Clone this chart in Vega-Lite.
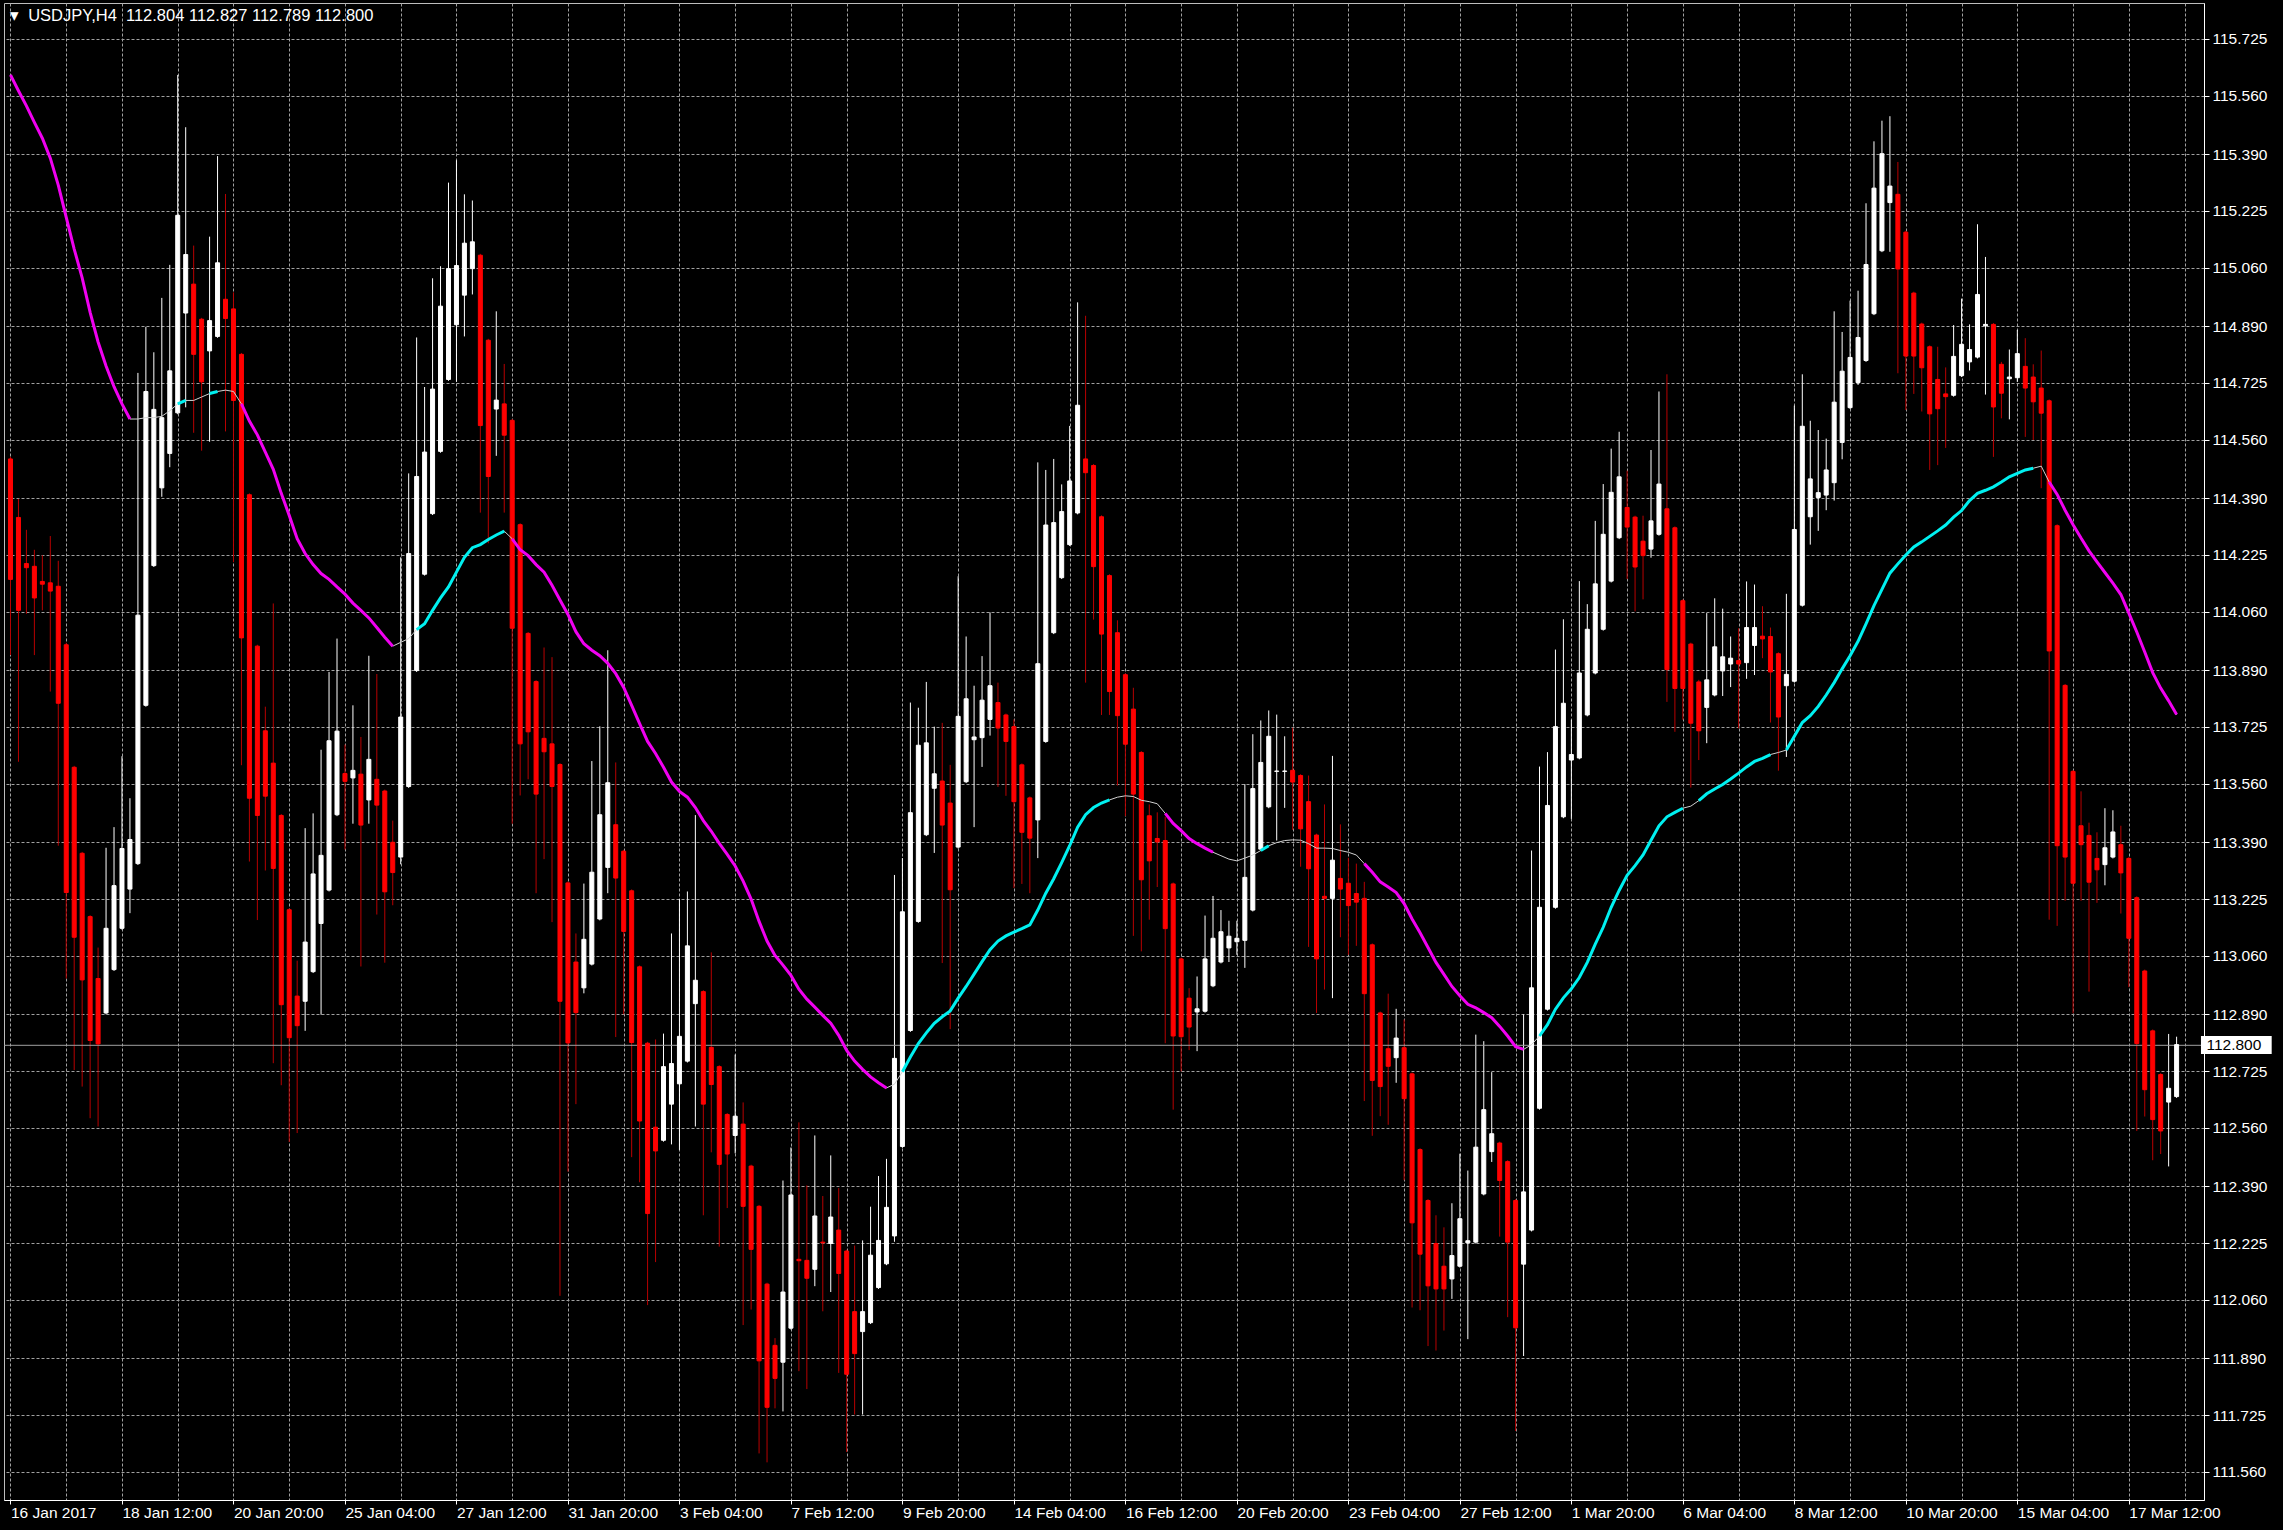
{
"$schema": "https://vega.github.io/schema/vega-lite/v6.json",
"width": 2200,
"height": 1497,
"autosize": {"type": "none"},
"padding": {"left": 4, "top": 3, "right": 79, "bottom": 30},
"background": "#000000",
"view": {"stroke": "#bdbdbd", "strokeWidth": 1, "fill": "#000000"},
"config": {"font": "Liberation Sans"},
"title": {"text": "\u25be\u00a0 USDJPY,H4\u00a0 112.804 112.827 112.789 112.800", "anchor": "start", "frame": "group", "color": "#ffffff", "font": "Liberation Sans", "fontSize": 16.5, "fontWeight": "normal", "baseline": "alphabetic", "offset": 0, "dx": 6, "dy": 34},
"datasets": {
"candles": [
{"i":0,"o":114.504,"h":114.51,"l":113.934,"c":114.154},
{"i":1,"o":114.334,"h":114.388,"l":113.624,"c":114.064},
{"i":2,"o":114.2,"h":114.298,"l":114.054,"c":114.188},
{"i":3,"o":114.192,"h":114.24,"l":113.934,"c":114.1},
{"i":4,"o":114.148,"h":114.224,"l":114.064,"c":114.14},
{"i":5,"o":114.144,"h":114.28,"l":113.828,"c":114.12},
{"i":6,"o":114.134,"h":114.208,"l":113.38,"c":113.794},
{"i":7,"o":113.964,"h":113.97,"l":112.994,"c":113.244},
{"i":8,"o":113.608,"h":113.612,"l":112.728,"c":113.114},
{"i":9,"o":113.358,"h":113.362,"l":112.68,"c":112.99},
{"i":10,"o":113.174,"h":113.178,"l":112.588,"c":112.814},
{"i":11,"o":112.994,"h":113.084,"l":112.564,"c":112.804},
{"i":12,"o":112.894,"h":113.374,"l":112.89,"c":113.14},
{"i":13,"o":113.02,"h":113.434,"l":113.016,"c":113.264},
{"i":14,"o":113.14,"h":113.64,"l":113.136,"c":113.372},
{"i":15,"o":113.254,"h":113.518,"l":113.184,"c":113.398},
{"i":16,"o":113.328,"h":114.754,"l":113.324,"c":114.05},
{"i":17,"o":113.788,"h":114.888,"l":113.784,"c":114.7},
{"i":18,"o":114.194,"h":114.814,"l":114.19,"c":114.648},
{"i":19,"o":114.42,"h":114.972,"l":114.394,"c":114.624},
{"i":20,"o":114.52,"h":115.068,"l":114.48,"c":114.76},
{"i":21,"o":114.638,"h":115.62,"l":114.634,"c":115.212},
{"i":22,"o":114.928,"h":115.468,"l":114.654,"c":115.098},
{"i":23,"o":115.012,"h":115.124,"l":114.58,"c":114.808},
{"i":24,"o":114.91,"h":114.914,"l":114.528,"c":114.728},
{"i":25,"o":114.818,"h":115.15,"l":114.554,"c":114.906},
{"i":26,"o":114.86,"h":115.384,"l":114.856,"c":115.074},
{"i":27,"o":114.968,"h":115.274,"l":114.584,"c":114.912},
{"i":28,"o":114.94,"h":114.988,"l":114.204,"c":114.674},
{"i":29,"o":114.808,"h":114.812,"l":113.614,"c":113.984},
{"i":30,"o":114.4,"h":114.404,"l":113.334,"c":113.518},
{"i":31,"o":113.96,"h":113.964,"l":113.164,"c":113.468},
{"i":32,"o":113.714,"h":113.784,"l":113.308,"c":113.524},
{"i":33,"o":113.62,"h":114.084,"l":112.748,"c":113.314},
{"i":34,"o":113.468,"h":113.472,"l":112.684,"c":112.918},
{"i":35,"o":113.194,"h":113.198,"l":112.519,"c":112.822},
{"i":36,"o":112.943,"h":113.046,"l":112.545,"c":112.857},
{"i":37,"o":112.928,"h":113.431,"l":112.842,"c":113.1},
{"i":38,"o":113.014,"h":113.474,"l":113.01,"c":113.298},
{"i":39,"o":113.154,"h":113.659,"l":112.889,"c":113.352},
{"i":40,"o":113.251,"h":113.885,"l":113.247,"c":113.685},
{"i":41,"o":113.47,"h":113.982,"l":113.466,"c":113.713},
{"i":42,"o":113.59,"h":113.674,"l":113.369,"c":113.567},
{"i":43,"o":113.577,"h":113.788,"l":113.444,"c":113.599},
{"i":44,"o":113.588,"h":113.696,"l":113.029,"c":113.44},
{"i":45,"o":113.513,"h":113.932,"l":113.444,"c":113.631},
{"i":46,"o":113.573,"h":113.879,"l":113.18,"c":113.498},
{"i":47,"o":113.539,"h":113.543,"l":113.04,"c":113.246},
{"i":48,"o":113.39,"h":113.453,"l":113.207,"c":113.302},
{"i":49,"o":113.347,"h":114.218,"l":113.326,"c":113.754},
{"i":50,"o":113.552,"h":114.462,"l":113.548,"c":114.229},
{"i":51,"o":113.889,"h":114.857,"l":113.885,"c":114.453},
{"i":52,"o":114.169,"h":114.713,"l":114.165,"c":114.524},
{"i":53,"o":114.345,"h":115.029,"l":114.341,"c":114.707},
{"i":54,"o":114.526,"h":115.064,"l":114.522,"c":114.948},
{"i":55,"o":114.735,"h":115.307,"l":114.731,"c":115.057},
{"i":56,"o":114.894,"h":115.372,"l":114.728,"c":115.066},
{"i":57,"o":114.98,"h":115.273,"l":114.86,"c":115.131},
{"i":58,"o":115.057,"h":115.255,"l":114.982,"c":115.135},
{"i":59,"o":115.096,"h":115.1,"l":114.348,"c":114.601},
{"i":60,"o":114.849,"h":114.853,"l":114.259,"c":114.453},
{"i":61,"o":114.649,"h":114.933,"l":114.513,"c":114.675},
{"i":62,"o":114.664,"h":114.78,"l":114.348,"c":114.573},
{"i":63,"o":114.616,"h":114.62,"l":113.444,"c":114.012},
{"i":64,"o":114.313,"h":114.317,"l":113.526,"c":113.676},
{"i":65,"o":113.997,"h":114.001,"l":113.573,"c":113.711},
{"i":66,"o":113.857,"h":113.861,"l":113.242,"c":113.53},
{"i":67,"o":113.692,"h":113.956,"l":113.341,"c":113.653},
{"i":68,"o":113.676,"h":113.928,"l":113.158,"c":113.552},
{"i":69,"o":113.616,"h":113.62,"l":112.072,"c":112.928},
{"i":70,"o":113.272,"h":113.276,"l":112.433,"c":112.807},
{"i":71,"o":113.042,"h":113.125,"l":112.629,"c":112.895},
{"i":72,"o":112.967,"h":113.27,"l":112.951,"c":113.108},
{"i":73,"o":113.036,"h":113.626,"l":113.032,"c":113.303},
{"i":74,"o":113.167,"h":113.727,"l":113.163,"c":113.47},
{"i":75,"o":113.317,"h":113.948,"l":113.242,"c":113.563},
{"i":76,"o":113.441,"h":113.622,"l":112.824,"c":113.286},
{"i":77,"o":113.364,"h":113.368,"l":112.89,"c":113.131},
{"i":78,"o":113.249,"h":113.253,"l":112.475,"c":112.808},
{"i":79,"o":113.028,"h":113.032,"l":112.402,"c":112.58},
{"i":80,"o":112.806,"h":112.81,"l":112.045,"c":112.311},
{"i":81,"o":112.562,"h":112.817,"l":112.17,"c":112.493},
{"i":82,"o":112.524,"h":112.834,"l":112.52,"c":112.738},
{"i":83,"o":112.629,"h":113.125,"l":112.512,"c":112.747},
{"i":84,"o":112.688,"h":113.225,"l":112.496,"c":112.826},
{"i":85,"o":112.754,"h":113.247,"l":112.75,"c":113.089},
{"i":86,"o":112.921,"h":113.469,"l":112.564,"c":112.989},
{"i":87,"o":112.956,"h":112.96,"l":112.306,"c":112.629},
{"i":88,"o":112.794,"h":113.07,"l":112.489,"c":112.686},
{"i":89,"o":112.738,"h":112.742,"l":112.215,"c":112.454},
{"i":90,"o":112.599,"h":112.603,"l":112.327,"c":112.484},
{"i":91,"o":112.538,"h":112.773,"l":112.486,"c":112.594},
{"i":92,"o":112.571,"h":112.634,"l":111.987,"c":112.332},
{"i":93,"o":112.449,"h":112.453,"l":112.032,"c":112.207},
{"i":94,"o":112.332,"h":112.336,"l":111.614,"c":111.883},
{"i":95,"o":112.106,"h":112.11,"l":111.588,"c":111.748},
{"i":96,"o":111.928,"h":111.949,"l":111.745,"c":111.832},
{"i":97,"o":111.879,"h":112.407,"l":111.736,"c":112.083},
{"i":98,"o":111.978,"h":112.503,"l":111.974,"c":112.365},
{"i":99,"o":112.178,"h":112.576,"l":111.853,"c":112.174},
{"i":100,"o":112.175,"h":112.393,"l":111.801,"c":112.123},
{"i":101,"o":112.149,"h":112.538,"l":112.1,"c":112.304},
{"i":102,"o":112.228,"h":112.362,"l":112.027,"c":112.226},
{"i":103,"o":112.224,"h":112.48,"l":112.083,"c":112.301},
{"i":104,"o":112.263,"h":112.385,"l":111.848,"c":112.137},
{"i":105,"o":112.202,"h":112.206,"l":111.618,"c":111.844},
{"i":106,"o":112.026,"h":112.218,"l":111.727,"c":111.904},
{"i":107,"o":111.968,"h":112.233,"l":111.727,"c":112.026},
{"i":108,"o":111.994,"h":112.331,"l":111.99,"c":112.19},
{"i":109,"o":112.096,"h":112.42,"l":112.092,"c":112.233},
{"i":110,"o":112.165,"h":112.47,"l":112.161,"c":112.329},
{"i":111,"o":112.246,"h":113.295,"l":112.229,"c":112.762},
{"i":112,"o":112.506,"h":113.344,"l":112.502,"c":113.188},
{"i":113,"o":112.843,"h":113.796,"l":112.839,"c":113.476},
{"i":114,"o":113.16,"h":113.781,"l":113.156,"c":113.672},
{"i":115,"o":113.412,"h":113.856,"l":113.408,"c":113.679},
{"i":116,"o":113.547,"h":113.726,"l":113.359,"c":113.589},
{"i":117,"o":113.568,"h":113.737,"l":113.039,"c":113.44},
{"i":118,"o":113.504,"h":113.615,"l":112.847,"c":113.252},
{"i":119,"o":113.376,"h":114.163,"l":113.372,"c":113.756},
{"i":120,"o":113.566,"h":113.988,"l":113.562,"c":113.807},
{"i":121,"o":113.688,"h":113.845,"l":113.434,"c":113.696},
{"i":122,"o":113.694,"h":113.931,"l":113.609,"c":113.803},
{"i":123,"o":113.747,"h":114.058,"l":113.7,"c":113.845},
{"i":124,"o":113.796,"h":113.854,"l":113.551,"c":113.722},
{"i":125,"o":113.76,"h":113.764,"l":113.525,"c":113.683},
{"i":126,"o":113.726,"h":113.747,"l":113.257,"c":113.508},
{"i":127,"o":113.615,"h":113.619,"l":113.269,"c":113.419},
{"i":128,"o":113.519,"h":113.523,"l":113.242,"c":113.402},
{"i":129,"o":113.455,"h":114.494,"l":113.344,"c":113.909},
{"i":130,"o":113.683,"h":114.472,"l":113.679,"c":114.312},
{"i":131,"o":113.999,"h":114.504,"l":113.995,"c":114.319},
{"i":132,"o":114.159,"h":114.43,"l":114.155,"c":114.351},
{"i":133,"o":114.255,"h":114.6,"l":114.251,"c":114.44},
{"i":134,"o":114.347,"h":114.959,"l":114.343,"c":114.66},
{"i":135,"o":114.504,"h":114.92,"l":113.854,"c":114.464},
{"i":136,"o":114.485,"h":114.489,"l":114.037,"c":114.191},
{"i":137,"o":114.336,"h":114.34,"l":113.76,"c":113.995},
{"i":138,"o":114.165,"h":114.169,"l":113.76,"c":113.828},
{"i":139,"o":113.999,"h":114.035,"l":113.555,"c":113.758},
{"i":140,"o":113.877,"h":113.881,"l":113.466,"c":113.675},
{"i":141,"o":113.777,"h":113.839,"l":113.118,"c":113.53},
{"i":142,"o":113.651,"h":113.655,"l":113.073,"c":113.281},
{"i":143,"o":113.467,"h":113.5,"l":113.165,"c":113.336},
{"i":144,"o":113.401,"h":113.477,"l":113.26,"c":113.391},
{"i":145,"o":113.395,"h":113.464,"l":112.806,"c":113.139},
{"i":146,"o":113.269,"h":113.273,"l":112.613,"c":112.827},
{"i":147,"o":113.051,"h":113.055,"l":112.724,"c":112.825},
{"i":148,"o":112.937,"h":112.966,"l":112.786,"c":112.853},
{"i":149,"o":112.897,"h":113.0,"l":112.783,"c":112.906},
{"i":150,"o":112.899,"h":113.177,"l":112.895,"c":113.051},
{"i":151,"o":112.973,"h":113.234,"l":112.969,"c":113.111},
{"i":152,"o":113.042,"h":113.193,"l":113.038,"c":113.13},
{"i":153,"o":113.083,"h":113.162,"l":113.042,"c":113.117},
{"i":154,"o":113.101,"h":113.162,"l":113.063,"c":113.111},
{"i":155,"o":113.105,"h":113.559,"l":113.025,"c":113.288},
{"i":156,"o":113.193,"h":113.704,"l":113.189,"c":113.546},
{"i":157,"o":113.37,"h":113.744,"l":113.366,"c":113.622},
{"i":158,"o":113.493,"h":113.773,"l":113.489,"c":113.698},
{"i":159,"o":113.596,"h":113.761,"l":113.395,"c":113.597},
{"i":160,"o":113.596,"h":113.698,"l":113.49,"c":113.597},
{"i":161,"o":113.599,"h":113.723,"l":113.426,"c":113.565},
{"i":162,"o":113.584,"h":113.588,"l":113.319,"c":113.429},
{"i":163,"o":113.508,"h":113.584,"l":113.086,"c":113.313},
{"i":164,"o":113.411,"h":113.415,"l":112.894,"c":113.051},
{"i":165,"o":113.233,"h":113.5,"l":112.962,"c":113.227},
{"i":166,"o":113.227,"h":113.641,"l":112.937,"c":113.338},
{"i":167,"o":113.285,"h":113.442,"l":113.114,"c":113.254},
{"i":168,"o":113.271,"h":113.345,"l":113.063,"c":113.206},
{"i":169,"o":113.241,"h":113.328,"l":113.089,"c":113.216},
{"i":170,"o":113.227,"h":113.275,"l":112.638,"c":112.95},
{"i":171,"o":113.092,"h":113.096,"l":112.537,"c":112.698},
{"i":172,"o":112.894,"h":112.898,"l":112.594,"c":112.68},
{"i":173,"o":112.79,"h":112.95,"l":112.569,"c":112.739},
{"i":174,"o":112.764,"h":112.906,"l":112.691,"c":112.821},
{"i":175,"o":112.793,"h":112.875,"l":112.408,"c":112.645},
{"i":176,"o":112.717,"h":112.721,"l":112.038,"c":112.284},
{"i":177,"o":112.497,"h":112.501,"l":112.03,"c":112.193},
{"i":178,"o":112.349,"h":112.353,"l":111.926,"c":112.101},
{"i":179,"o":112.224,"h":112.306,"l":111.913,"c":112.092},
{"i":180,"o":112.158,"h":112.271,"l":111.971,"c":112.092},
{"i":181,"o":112.121,"h":112.341,"l":112.063,"c":112.189},
{"i":182,"o":112.158,"h":112.485,"l":112.154,"c":112.296},
{"i":183,"o":112.226,"h":112.436,"l":111.946,"c":112.232},
{"i":184,"o":112.228,"h":112.831,"l":112.224,"c":112.504},
{"i":185,"o":112.368,"h":112.812,"l":112.364,"c":112.613},
{"i":186,"o":112.491,"h":112.722,"l":112.461,"c":112.543},
{"i":187,"o":112.516,"h":112.52,"l":112.244,"c":112.407},
{"i":188,"o":112.462,"h":112.466,"l":112.01,"c":112.228},
{"i":189,"o":112.349,"h":112.353,"l":111.679,"c":111.979},
{"i":190,"o":112.164,"h":112.89,"l":111.897,"c":112.374},
{"i":191,"o":112.263,"h":113.366,"l":112.259,"c":112.967},
{"i":192,"o":112.617,"h":113.61,"l":112.613,"c":113.201},
{"i":193,"o":112.905,"h":113.652,"l":112.901,"c":113.497},
{"i":194,"o":113.201,"h":113.95,"l":113.197,"c":113.726},
{"i":195,"o":113.464,"h":114.038,"l":113.46,"c":113.794},
{"i":196,"o":113.629,"h":113.746,"l":113.458,"c":113.645},
{"i":197,"o":113.635,"h":114.149,"l":113.631,"c":113.882},
{"i":198,"o":113.76,"h":114.082,"l":113.756,"c":114.009},
{"i":199,"o":113.882,"h":114.324,"l":113.878,"c":114.141},
{"i":200,"o":114.009,"h":114.431,"l":114.005,"c":114.285},
{"i":201,"o":114.149,"h":114.534,"l":114.145,"c":114.407},
{"i":202,"o":114.275,"h":114.583,"l":114.271,"c":114.452},
{"i":203,"o":114.363,"h":114.47,"l":114.155,"c":114.306},
{"i":204,"o":114.335,"h":114.339,"l":114.061,"c":114.19},
{"i":205,"o":114.265,"h":114.339,"l":114.096,"c":114.223},
{"i":206,"o":114.242,"h":114.53,"l":114.217,"c":114.324},
{"i":207,"o":114.285,"h":114.7,"l":114.281,"c":114.431},
{"i":208,"o":114.359,"h":114.75,"l":113.798,"c":113.892},
{"i":209,"o":114.304,"h":114.308,"l":113.711,"c":113.837},
{"i":210,"o":114.092,"h":114.096,"l":113.746,"c":113.837},
{"i":211,"o":113.966,"h":113.97,"l":113.549,"c":113.736},
{"i":212,"o":113.856,"h":113.862,"l":113.629,"c":113.714},
{"i":213,"o":113.782,"h":114.056,"l":113.678,"c":113.862},
{"i":214,"o":113.818,"h":114.099,"l":113.814,"c":113.958},
{"i":215,"o":113.888,"h":114.069,"l":113.815,"c":113.929},
{"i":216,"o":113.908,"h":113.988,"l":113.841,"c":113.925},
{"i":217,"o":113.918,"h":114.012,"l":113.721,"c":113.908},
{"i":218,"o":113.912,"h":114.148,"l":113.865,"c":114.014},
{"i":219,"o":113.962,"h":114.139,"l":113.876,"c":114.014},
{"i":220,"o":113.989,"h":114.076,"l":113.925,"c":113.981},
{"i":221,"o":113.988,"h":114.014,"l":113.738,"c":113.885},
{"i":222,"o":113.938,"h":113.942,"l":113.598,"c":113.754},
{"i":223,"o":113.845,"h":114.112,"l":113.638,"c":113.878},
{"i":224,"o":113.858,"h":114.659,"l":113.854,"c":114.299},
{"i":225,"o":114.079,"h":114.75,"l":114.075,"c":114.599},
{"i":226,"o":114.336,"h":114.615,"l":114.255,"c":114.446},
{"i":227,"o":114.392,"h":114.588,"l":114.295,"c":114.406},
{"i":228,"o":114.399,"h":114.563,"l":114.355,"c":114.472},
{"i":229,"o":114.435,"h":114.933,"l":114.383,"c":114.669},
{"i":230,"o":114.552,"h":114.873,"l":114.503,"c":114.759},
{"i":231,"o":114.653,"h":114.964,"l":114.649,"c":114.799},
{"i":232,"o":114.726,"h":114.993,"l":114.719,"c":114.857},
{"i":233,"o":114.79,"h":115.247,"l":114.786,"c":115.069},
{"i":234,"o":114.926,"h":115.427,"l":114.922,"c":115.291},
{"i":235,"o":115.109,"h":115.487,"l":115.105,"c":115.391},
{"i":236,"o":115.249,"h":115.5,"l":115.106,"c":115.297},
{"i":237,"o":115.273,"h":115.367,"l":114.753,"c":115.056},
{"i":238,"o":115.163,"h":115.167,"l":114.646,"c":114.803},
{"i":239,"o":114.986,"h":114.99,"l":114.693,"c":114.803},
{"i":240,"o":114.896,"h":114.9,"l":114.642,"c":114.769},
{"i":241,"o":114.83,"h":114.834,"l":114.472,"c":114.635},
{"i":242,"o":114.735,"h":114.83,"l":114.486,"c":114.65},
{"i":243,"o":114.693,"h":114.77,"l":114.536,"c":114.685},
{"i":244,"o":114.689,"h":114.893,"l":114.685,"c":114.802},
{"i":245,"o":114.746,"h":114.97,"l":114.742,"c":114.837},
{"i":246,"o":114.786,"h":114.895,"l":114.761,"c":114.822},
{"i":247,"o":114.8,"h":115.186,"l":114.796,"c":114.982},
{"i":248,"o":114.891,"h":115.091,"l":114.691,"c":114.895},
{"i":249,"o":114.895,"h":114.899,"l":114.51,"c":114.655},
{"i":250,"o":114.779,"h":114.786,"l":114.622,"c":114.695},
{"i":251,"o":114.737,"h":114.822,"l":114.619,"c":114.742},
{"i":252,"o":114.74,"h":114.879,"l":114.728,"c":114.81},
{"i":253,"o":114.773,"h":114.855,"l":114.568,"c":114.71},
{"i":254,"o":114.742,"h":114.779,"l":114.559,"c":114.67},
{"i":255,"o":114.71,"h":114.819,"l":114.419,"c":114.637},
{"i":256,"o":114.673,"h":114.677,"l":113.165,"c":113.946},
{"i":257,"o":114.31,"h":114.314,"l":113.147,"c":113.38},
{"i":258,"o":113.846,"h":113.85,"l":113.22,"c":113.347},
{"i":259,"o":113.596,"h":113.6,"l":112.893,"c":113.271},
{"i":260,"o":113.438,"h":113.538,"l":113.22,"c":113.383},
{"i":261,"o":113.41,"h":113.447,"l":112.956,"c":113.274},
{"i":262,"o":113.343,"h":113.419,"l":113.214,"c":113.31},
{"i":263,"o":113.325,"h":113.489,"l":113.265,"c":113.374},
{"i":264,"o":113.347,"h":113.483,"l":113.343,"c":113.42},
{"i":265,"o":113.383,"h":113.438,"l":113.183,"c":113.301},
{"i":266,"o":113.343,"h":113.347,"l":112.969,"c":113.111},
{"i":267,"o":113.229,"h":113.233,"l":112.551,"c":112.805},
{"i":268,"o":113.016,"h":113.02,"l":112.593,"c":112.671},
{"i":269,"o":112.842,"h":112.846,"l":112.466,"c":112.584},
{"i":270,"o":112.715,"h":112.719,"l":112.484,"c":112.551},
{"i":271,"o":112.635,"h":112.833,"l":112.448,"c":112.675},
{"i":272,"o":112.651,"h":112.825,"l":112.647,"c":112.802}
],
"ma": [
{"i":0,"v":115.62,"g":"d1"},{"i":1,"v":115.574,"g":"d1"},{"i":2,"v":115.53,"g":"d1"},{"i":3,"v":115.482,"g":"d1"},{"i":4,"v":115.436,"g":"d1"},{"i":5,"v":115.378,"g":"d1"},{"i":6,"v":115.3,"g":"d1"},{"i":7,"v":115.206,"g":"d1"},{"i":8,"v":115.114,"g":"d1"},{"i":9,"v":115.03,"g":"d1"},{"i":10,"v":114.93,"g":"d1"},{"i":11,"v":114.844,"g":"d1"},{"i":12,"v":114.774,"g":"d1"},{"i":13,"v":114.714,"g":"d1"},{"i":14,"v":114.664,"g":"d1"},{"i":15,"v":114.62,"g":"d1"},
{"i":16,"v":114.62},{"i":17,"v":114.624},{"i":18,"v":114.624},{"i":19,"v":114.628},{"i":20,"v":114.644},
{"i":21,"v":114.664,"g":"u1"},{"i":22,"v":114.674,"g":"u1"},
{"i":23,"v":114.674},{"i":24,"v":114.684},
{"i":25,"v":114.694,"g":"u2"},{"i":26,"v":114.7,"g":"u2"},
{"i":27,"v":114.704},{"i":28,"v":114.7},
{"i":29,"v":114.664,"g":"d2"},{"i":30,"v":114.614,"g":"d2"},{"i":31,"v":114.574,"g":"d2"},{"i":32,"v":114.524,"g":"d2"},{"i":33,"v":114.474,"g":"d2"},{"i":34,"v":114.404,"g":"d2"},{"i":35,"v":114.34,"g":"d2"},{"i":36,"v":114.272,"g":"d2"},{"i":37,"v":114.229,"g":"d2"},{"i":38,"v":114.197,"g":"d2"},{"i":39,"v":114.171,"g":"d2"},{"i":40,"v":114.154,"g":"d2"},{"i":41,"v":114.132,"g":"d2"},{"i":42,"v":114.111,"g":"d2"},{"i":43,"v":114.085,"g":"d2"},{"i":44,"v":114.064,"g":"d2"},{"i":45,"v":114.042,"g":"d2"},{"i":46,"v":114.014,"g":"d2"},{"i":47,"v":113.986,"g":"d2"},{"i":48,"v":113.96,"g":"d2"},
{"i":49,"v":113.971},{"i":50,"v":113.982},
{"i":51,"v":114.008,"g":"u3"},{"i":52,"v":114.025,"g":"u3"},{"i":53,"v":114.064,"g":"u3"},{"i":54,"v":114.1,"g":"u3"},{"i":55,"v":114.132,"g":"u3"},{"i":56,"v":114.175,"g":"u3"},{"i":57,"v":114.218,"g":"u3"},{"i":58,"v":114.246,"g":"u3"},{"i":59,"v":114.255,"g":"u3"},{"i":60,"v":114.27,"g":"u3"},{"i":61,"v":114.283,"g":"u3"},{"i":62,"v":114.294,"g":"u3"},
{"i":63,"v":114.272,"g":"d3"},{"i":64,"v":114.24,"g":"d3"},{"i":65,"v":114.223,"g":"d3"},{"i":66,"v":114.197,"g":"d3"},{"i":67,"v":114.175,"g":"d3"},{"i":68,"v":114.137,"g":"d3"},{"i":69,"v":114.094,"g":"d3"},{"i":70,"v":114.052,"g":"d3"},{"i":71,"v":114.002,"g":"d3"},{"i":72,"v":113.967,"g":"d3"},{"i":73,"v":113.948,"g":"d3"},{"i":74,"v":113.932,"g":"d3"},{"i":75,"v":113.91,"g":"d3"},{"i":76,"v":113.88,"g":"d3"},{"i":77,"v":113.84,"g":"d3"},{"i":78,"v":113.788,"g":"d3"},{"i":79,"v":113.735,"g":"d3"},{"i":80,"v":113.683,"g":"d3"},{"i":81,"v":113.648,"g":"d3"},{"i":82,"v":113.608,"g":"d3"},{"i":83,"v":113.565,"g":"d3"},{"i":84,"v":113.538,"g":"d3"},{"i":85,"v":113.521,"g":"d3"},{"i":86,"v":113.491,"g":"d3"},{"i":87,"v":113.453,"g":"d3"},{"i":88,"v":113.422,"g":"d3"},{"i":89,"v":113.387,"g":"d3"},{"i":90,"v":113.355,"g":"d3"},{"i":91,"v":113.321,"g":"d3"},{"i":92,"v":113.277,"g":"d3"},{"i":93,"v":113.225,"g":"d3"},{"i":94,"v":113.16,"g":"d3"},{"i":95,"v":113.103,"g":"d3"},{"i":96,"v":113.061,"g":"d3"},{"i":97,"v":113.033,"g":"d3"},{"i":98,"v":113.003,"g":"d3"},{"i":99,"v":112.963,"g":"d3"},{"i":100,"v":112.934,"g":"d3"},{"i":101,"v":112.911,"g":"d3"},{"i":102,"v":112.887,"g":"d3"},{"i":103,"v":112.864,"g":"d3"},{"i":104,"v":112.829,"g":"d3"},{"i":105,"v":112.785,"g":"d3"},{"i":106,"v":112.754,"g":"d3"},{"i":107,"v":112.73,"g":"d3"},{"i":108,"v":112.708,"g":"d3"},{"i":109,"v":112.691,"g":"d3"},{"i":110,"v":112.676,"g":"d3"},
{"i":111,"v":112.687},
{"i":112,"v":112.723,"g":"u4"},{"i":113,"v":112.766,"g":"u4"},{"i":114,"v":112.805,"g":"u4"},{"i":115,"v":112.836,"g":"u4"},{"i":116,"v":112.864,"g":"u4"},{"i":117,"v":112.883,"g":"u4"},{"i":118,"v":112.9,"g":"u4"},{"i":119,"v":112.937,"g":"u4"},{"i":120,"v":112.971,"g":"u4"},{"i":121,"v":113.007,"g":"u4"},{"i":122,"v":113.043,"g":"u4"},{"i":123,"v":113.078,"g":"u4"},{"i":124,"v":113.103,"g":"u4"},{"i":125,"v":113.118,"g":"u4"},{"i":126,"v":113.129,"g":"u4"},{"i":127,"v":113.139,"g":"u4"},{"i":128,"v":113.15,"g":"u4"},{"i":129,"v":113.193,"g":"u4"},{"i":130,"v":113.242,"g":"u4"},{"i":131,"v":113.284,"g":"u4"},{"i":132,"v":113.331,"g":"u4"},{"i":133,"v":113.38,"g":"u4"},{"i":134,"v":113.434,"g":"u4"},{"i":135,"v":113.47,"g":"u4"},{"i":136,"v":113.491,"g":"u4"},{"i":137,"v":113.504,"g":"u4"},{"i":138,"v":113.513,"g":"u4"},
{"i":139,"v":113.521},{"i":140,"v":113.525},{"i":141,"v":113.523},{"i":142,"v":113.512},{"i":143,"v":113.508},{"i":144,"v":113.502},
{"i":145,"v":113.474,"g":"d4"},{"i":146,"v":113.445,"g":"d4"},{"i":147,"v":113.424,"g":"d4"},{"i":148,"v":113.401,"g":"d4"},{"i":149,"v":113.386,"g":"d4"},{"i":150,"v":113.373,"g":"d4"},{"i":151,"v":113.361,"g":"d4"},
{"i":152,"v":113.351},{"i":153,"v":113.341},{"i":154,"v":113.336},{"i":155,"v":113.344},{"i":156,"v":113.353},
{"i":157,"v":113.366,"g":"u5"},{"i":158,"v":113.38,"g":"u5"},
{"i":159,"v":113.389},{"i":160,"v":113.395},{"i":161,"v":113.397},{"i":162,"v":113.396},{"i":163,"v":113.386},{"i":164,"v":113.373},{"i":165,"v":113.373},{"i":166,"v":113.372},{"i":167,"v":113.366},{"i":168,"v":113.361},{"i":169,"v":113.353},
{"i":170,"v":113.328,"g":"d5"},{"i":171,"v":113.303,"g":"d5"},{"i":172,"v":113.275,"g":"d5"},{"i":173,"v":113.26,"g":"d5"},{"i":174,"v":113.244,"g":"d5"},{"i":175,"v":113.212,"g":"d5"},{"i":176,"v":113.167,"g":"d5"},{"i":177,"v":113.127,"g":"d5"},{"i":178,"v":113.084,"g":"d5"},{"i":179,"v":113.041,"g":"d5"},{"i":180,"v":113.006,"g":"d5"},{"i":181,"v":112.971,"g":"d5"},{"i":182,"v":112.944,"g":"d5"},{"i":183,"v":112.919,"g":"d5"},{"i":184,"v":112.909,"g":"d5"},{"i":185,"v":112.895,"g":"d5"},{"i":186,"v":112.88,"g":"d5"},{"i":187,"v":112.855,"g":"d5"},{"i":188,"v":112.827,"g":"d5"},{"i":189,"v":112.796,"g":"d5"},{"i":190,"v":112.788,"g":"d5"},
{"i":191,"v":112.802},
{"i":192,"v":112.827,"g":"u6"},{"i":193,"v":112.86,"g":"u6"},{"i":194,"v":112.905,"g":"u6"},{"i":195,"v":112.938,"g":"u6"},{"i":196,"v":112.964,"g":"u6"},{"i":197,"v":112.997,"g":"u6"},{"i":198,"v":113.041,"g":"u6"},{"i":199,"v":113.094,"g":"u6"},{"i":200,"v":113.143,"g":"u6"},{"i":201,"v":113.201,"g":"u6"},{"i":202,"v":113.25,"g":"u6"},{"i":203,"v":113.294,"g":"u6"},{"i":204,"v":113.322,"g":"u6"},{"i":205,"v":113.353,"g":"u6"},{"i":206,"v":113.396,"g":"u6"},{"i":207,"v":113.438,"g":"u6"},{"i":208,"v":113.464,"g":"u6"},{"i":209,"v":113.477,"g":"u6"},{"i":210,"v":113.489,"g":"u6"},
{"i":211,"v":113.495},
{"i":212,"v":113.511,"g":"u7"},{"i":213,"v":113.531,"g":"u7"},{"i":214,"v":113.545,"g":"u7"},{"i":215,"v":113.558,"g":"u7"},{"i":216,"v":113.574,"g":"u7"},{"i":217,"v":113.591,"g":"u7"},{"i":218,"v":113.609,"g":"u7"},{"i":219,"v":113.625,"g":"u7"},{"i":220,"v":113.634,"g":"u7"},{"i":221,"v":113.645,"g":"u7"},
{"i":222,"v":113.651},
{"i":223,"v":113.658,"g":"u8"},{"i":224,"v":113.698,"g":"u8"},{"i":225,"v":113.738,"g":"u8"},{"i":226,"v":113.758,"g":"u8"},{"i":227,"v":113.785,"g":"u8"},{"i":228,"v":113.818,"g":"u8"},{"i":229,"v":113.854,"g":"u8"},{"i":230,"v":113.894,"g":"u8"},{"i":231,"v":113.932,"g":"u8"},{"i":232,"v":113.974,"g":"u8"},{"i":233,"v":114.025,"g":"u8"},{"i":234,"v":114.078,"g":"u8"},{"i":235,"v":114.125,"g":"u8"},{"i":236,"v":114.172,"g":"u8"},{"i":237,"v":114.199,"g":"u8"},{"i":238,"v":114.225,"g":"u8"},{"i":239,"v":114.248,"g":"u8"},{"i":240,"v":114.263,"g":"u8"},{"i":241,"v":114.279,"g":"u8"},{"i":242,"v":114.295,"g":"u8"},{"i":243,"v":114.312,"g":"u8"},{"i":244,"v":114.335,"g":"u8"},{"i":245,"v":114.354,"g":"u8"},{"i":246,"v":114.383,"g":"u8"},{"i":247,"v":114.404,"g":"u8"},{"i":248,"v":114.413,"g":"u8"},{"i":249,"v":114.423,"g":"u8"},{"i":250,"v":114.437,"g":"u8"},{"i":251,"v":114.452,"g":"u8"},{"i":252,"v":114.462,"g":"u8"},{"i":253,"v":114.472,"g":"u8"},{"i":254,"v":114.477,"g":"u8"},
{"i":255,"v":114.483},
{"i":256,"v":114.437,"g":"d6"},{"i":257,"v":114.401,"g":"d6"},{"i":258,"v":114.355,"g":"d6"},{"i":259,"v":114.313,"g":"d6"},{"i":260,"v":114.274,"g":"d6"},{"i":261,"v":114.237,"g":"d6"},{"i":262,"v":114.205,"g":"d6"},{"i":263,"v":114.174,"g":"d6"},{"i":264,"v":114.143,"g":"d6"},{"i":265,"v":114.11,"g":"d6"},{"i":266,"v":114.056,"g":"d6"},{"i":267,"v":114.001,"g":"d6"},{"i":268,"v":113.943,"g":"d6"},{"i":269,"v":113.883,"g":"d6"},{"i":270,"v":113.838,"g":"d6"},{"i":271,"v":113.801,"g":"d6"},{"i":272,"v":113.761,"g":"d6"}
],
"bid": [{"price": 112.8, "label": "112.800"}]
},
"layer": [
{
"data": {"name": "candles"},
"mark": {"type": "rule", "strokeWidth": 1},
"encoding": {
"x": {"field": "i", "type": "quantitative", "title": null, "scale": {"domain": [-0.1875, 274.8125], "nice": false, "zero": false},
"axis": {"orient": "bottom", "title": null, "values": [0,7,14,21,28,35,42,49,56,63,70,77,84,91,98,105,112,119,126,133,140,147,154,161,168,175,182,189,196,203,210,217,224,231,238,245,252,259,266,273],
"grid": true, "gridColor": "#a0a0a0", "gridDash": [3, 2], "gridWidth": 1,
"domain": true, "domainColor": "#ffffff", "domainWidth": 1,
"ticks": true, "tickColor": "#ffffff", "tickSize": 4, "tickWidth": 1,
"tickOpacity": {"condition": {"test": "datum.value % 14 === 0", "value": 1}, "value": 0},
"labelExpr": "datum.value % 14 === 0 ? ['16 Jan 2017','18 Jan 12:00','20 Jan 20:00','25 Jan 04:00','27 Jan 12:00','31 Jan 20:00','3 Feb 04:00','7 Feb 12:00','9 Feb 20:00','14 Feb 04:00','16 Feb 12:00','20 Feb 20:00','23 Feb 04:00','27 Feb 12:00','1 Mar 20:00','6 Mar 04:00','8 Mar 12:00','10 Mar 20:00','15 Mar 04:00','17 Mar 12:00'][datum.value / 14] : ''",
"labelAlign": "left", "labelBaseline": "top", "labelPadding": 1, "labelColor": "#ffffff", "labelFont": "Liberation Sans", "labelFontSize": 15.5, "labelOverlap": false, "labelFlush": false, "labelBound": false}},
"y": {"field": "l", "type": "quantitative", "title": null, "scale": {"domain": [111.4786, 115.829], "nice": false, "zero": false},
"axis": {"orient": "right", "title": null, "values": [111.56,111.725,111.89,112.06,112.225,112.39,112.56,112.725,112.89,113.06,113.225,113.39,113.56,113.725,113.89,114.06,114.225,114.39,114.56,114.725,114.89,115.06,115.225,115.39,115.56,115.725],
"format": ".3f", "grid": true, "gridColor": "#a0a0a0", "gridDash": [3, 2], "gridWidth": 1,
"domain": true, "domainColor": "#ffffff", "domainWidth": 1,
"ticks": true, "tickColor": "#ffffff", "tickSize": 5, "tickWidth": 1,
"labelAlign": "left", "labelBaseline": "middle", "labelPadding": 3, "labelColor": "#ffffff", "labelFont": "Liberation Sans", "labelFontSize": 15.5, "labelOverlap": false, "labelFlush": false, "labelBound": false}},
"y2": {"field": "h"},
"color": {"condition": {"test": "datum.c >= datum.o", "value": "#ffffff"}, "value": "#b80000"}
}
},
{
"data": {"name": "bid"},
"mark": {"type": "rule", "color": "#a0a0a0", "strokeWidth": 1},
"encoding": {
"y": {"field": "price", "type": "quantitative", "title": null, "scale": {"domain": [111.4786, 115.829], "nice": false, "zero": false}}
}
},
{
"data": {"name": "candles"},
"mark": {"type": "bar", "size": 4, "strokeWidth": 1},
"encoding": {
"x": {"field": "i", "type": "quantitative", "title": null, "scale": {"domain": [-0.1875, 274.8125], "nice": false, "zero": false}},
"y": {"field": "o", "type": "quantitative", "title": null, "scale": {"domain": [111.4786, 115.829], "nice": false, "zero": false}},
"y2": {"field": "c"},
"fill": {"condition": {"test": "datum.c >= datum.o", "value": "#ffffff"}, "value": "#ff0000"},
"stroke": {"condition": {"test": "datum.c >= datum.o", "value": "#ffffff"}, "value": "#ff0000"}
}
},
{
"data": {"name": "ma"},
"mark": {"type": "line", "color": "#d0d0d0", "strokeWidth": 1},
"encoding": {
"x": {"field": "i", "type": "quantitative", "title": null, "scale": {"domain": [-0.1875, 274.8125], "nice": false, "zero": false}},
"y": {"field": "v", "type": "quantitative", "title": null, "scale": {"domain": [111.4786, 115.829], "nice": false, "zero": false}}
}
},
{
"data": {"name": "ma"},
"transform": [{"filter": "isValid(datum.g)"}],
"mark": {"type": "line", "strokeWidth": 3},
"encoding": {
"x": {"field": "i", "type": "quantitative", "title": null, "scale": {"domain": [-0.1875, 274.8125], "nice": false, "zero": false}},
"y": {"field": "v", "type": "quantitative", "title": null, "scale": {"domain": [111.4786, 115.829], "nice": false, "zero": false}},
"color": {"field": "g", "type": "nominal", "legend": null,
"scale": {"domain": ["d1","d2","d3","d4","d5","d6","u1","u2","u3","u4","u5","u6","u7","u8"],
"range": ["#f000f0","#f000f0","#f000f0","#f000f0","#f000f0","#f000f0","#00f0f0","#00f0f0","#00f0f0","#00f0f0","#00f0f0","#00f0f0","#00f0f0","#00f0f0"]}}
}
},
{
"data": {"name": "bid"},
"mark": {"type": "rect", "color": "#ffffff"},
"encoding": {
"x": {"datum": 275.06, "type": "quantitative", "title": null, "scale": {"domain": [-0.1875, 274.8125], "nice": false, "zero": false}},
"x2": {"datum": 283.94},
"y": {"datum": 112.827, "type": "quantitative", "title": null, "scale": {"domain": [111.4786, 115.829], "nice": false, "zero": false}},
"y2": {"datum": 112.775}
}
},
{
"data": {"name": "bid"},
"mark": {"type": "text", "color": "#000000", "align": "left", "baseline": "middle", "font": "Liberation Sans", "fontSize": 15.5},
"encoding": {
"x": {"datum": 275.75, "type": "quantitative", "title": null, "scale": {"domain": [-0.1875, 274.8125], "nice": false, "zero": false}},
"y": {"field": "price", "type": "quantitative", "title": null, "scale": {"domain": [111.4786, 115.829], "nice": false, "zero": false}},
"text": {"field": "label"}
}
}
]
}
